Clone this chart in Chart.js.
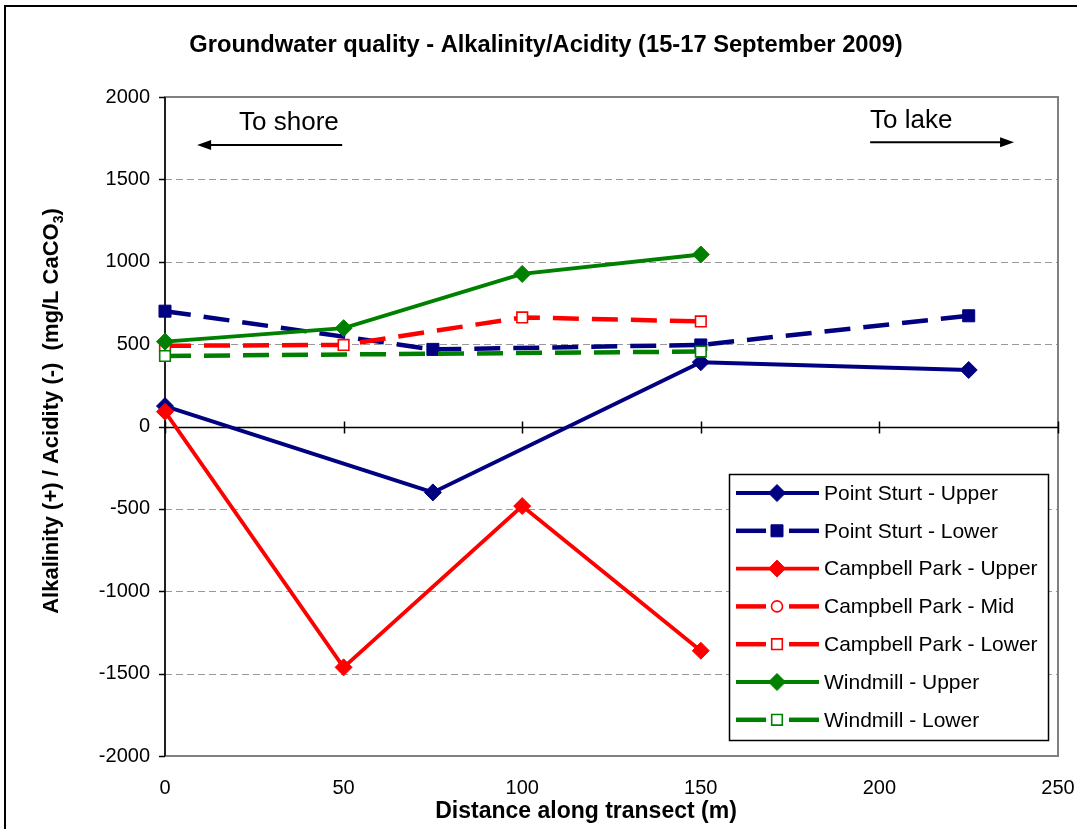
<!DOCTYPE html>
<html><head><meta charset="utf-8">
<script src="https://cdn.jsdelivr.net/npm/chart.js@4.4.1/dist/chart.umd.min.js"></script>
<style>
html,body{margin:0;padding:0;background:#fff;overflow:hidden}
#wrap{position:relative;width:1077px;height:829px;overflow:hidden}
#frame{position:absolute;left:4px;top:5px;width:1200px;height:1000px;border:2px solid #000;pointer-events:none}
canvas{position:absolute;left:0;top:0}
</style></head><body>
<div id="wrap"><canvas id="c" width="1077" height="829"></canvas><div id="frame"></div></div>
<script>
// ---- data ----
const seriesNames = ['Point Sturt - Upper','Point Sturt - Lower','Campbell Park - Upper','Campbell Park - Mid','Campbell Park - Lower','Windmill - Upper','Windmill - Lower'];
const psUpperX = [0, 75, 150, 225];
const psUpperY = [124, -400, 390, 343];
const psLowerX = [0, 75, 150, 225];
const psLowerY = [700, 468, 495, 672];
const cpUpperX = [0, 50, 100, 150];
const cpUpperY = [90, -1462, -483, -1361];
const cpMidX = [];
const cpMidY = [];
const cpLowerX = [0, 50, 100, 150];
const cpLowerY = [490, 495, 662, 638];
const wmUpperX = [0, 50, 100, 150];
const wmUpperY = [515, 597, 926, 1044];
const wmLowerX = [0, 150];
const wmLowerY = [428, 455];
const xTicks = [0, 50, 100, 150, 200, 250];
const yTicks = [-2000, -1500, -1000, -500, 0, 500, 1000, 1500, 2000];
const titleText = 'Groundwater quality - Alkalinity/Acidity (15-17 September 2009)';
const xTitleText = 'Distance along transect (m)';
const yTitleMain = 'Alkalinity (+) / Acidity (-)  (mg/L CaCO';
const yTitleSub = '3';
const yTitleEnd = ')';
const noteShore = {text:'To shore', tx:34.7, ty:1842, x1:49.6, x2:9.0, y:1708};
const noteLake = {text:'To lake', tx:208.9, ty:1854, x1:197.4, x2:237.7, y:1726};

const NAVY = '#000080', RED = '#ff0000', GREEN = '#008000';
const pts = (xs, ys) => xs.map((v, i) => ({x: v, y: ys[i]}));

function ds(i, xs, ys, color, dashed, style, filled, r){
  return {
    label: seriesNames[i], data: pts(xs, ys), borderColor: color,
    borderWidth: dashed ? 4.5 : 3.8, borderDash: dashed ? [26, 13] : [],
    pointStyle: style, pointRadius: r, pointHoverRadius: r,
    pointBackgroundColor: filled ? color : '#ffffff', pointBorderColor: color,
    pointBorderWidth: filled ? 1 : 1.6, tension: 0, fill: false, clip: false,
    order: 10 - i
  };
}
const datasets = [
  ds(0, psUpperX, psUpperY, NAVY, false, 'rectRot', true, 8.5),
  ds(1, psLowerX, psLowerY, NAVY, true, 'rect', true, 8.5),
  ds(2, cpUpperX, cpUpperY, RED, false, 'rectRot', true, 8.5),
  ds(3, cpMidX, cpMidY, RED, true, 'circle', false, 5.5),
  ds(4, cpLowerX, cpLowerY, RED, true, 'rect', false, 7.5),
  ds(5, wmUpperX, wmUpperY, GREEN, false, 'rectRot', true, 8.5),
  ds(6, wmLowerX, wmLowerY, GREEN, true, 'rect', false, 7.5)
];

const FONT = '"Liberation Sans", Arial, sans-serif';

function line(ctx, x1, y1, x2, y2){ ctx.beginPath(); ctx.moveTo(x1, y1); ctx.lineTo(x2, y2); ctx.stroke(); }

const deco = {
  id: 'deco',
  beforeDatasetsDraw(chart){
    const {ctx, chartArea: a, scales: {x, y}} = chart;
    ctx.save();
    ctx.strokeStyle = '#999999'; ctx.lineWidth = 1; ctx.setLineDash([7, 4]);
    yTicks.forEach(v => {
      if (v === 0 || v === yTicks[0] || v === yTicks[yTicks.length - 1]) return;
      const py = Math.round(y.getPixelForValue(v)) + 0.5;
      line(ctx, a.left, py, a.right, py);
    });
    ctx.setLineDash([]);
    ctx.strokeStyle = '#808080'; ctx.lineWidth = 2;
    ctx.strokeRect(a.left, a.top, a.right - a.left, a.bottom - a.top);
    ctx.strokeStyle = '#000'; ctx.lineWidth = 1.5;
    line(ctx, a.left, a.top, a.left, a.bottom);
    yTicks.forEach(v => { const py = Math.round(y.getPixelForValue(v)) + 0.5; line(ctx, a.left - 6, py, a.left, py); });
    const y0 = Math.round(y.getPixelForValue(0)) + 0.5;
    line(ctx, a.left, y0, a.right, y0);
    xTicks.forEach(v => { const px = Math.round(x.getPixelForValue(v)) + 0.5; line(ctx, px, y0 - 6, px, y0 + 6); });
    ctx.fillStyle = '#000'; ctx.font = '26px ' + FONT; ctx.textAlign = 'center'; ctx.textBaseline = 'middle';
    [noteShore, noteLake].forEach(n => {
      ctx.fillText(n.text, x.getPixelForValue(n.tx), y.getPixelForValue(n.ty));
      const x1 = x.getPixelForValue(n.x1), x2 = x.getPixelForValue(n.x2), py = y.getPixelForValue(n.y);
      const dir = Math.sign(x2 - x1);
      ctx.lineWidth = 2;
      line(ctx, x1, py, x2 - dir * 8, py);
      ctx.beginPath(); ctx.moveTo(x2, py); ctx.lineTo(x2 - dir * 14, py - 5); ctx.lineTo(x2 - dir * 14, py + 5); ctx.closePath(); ctx.fill();
    });
    ctx.restore();
  },
  afterDatasetsDraw(chart){
    const {ctx} = chart;
    ctx.save();
    const L = 729, T = 474, R = 1048, B = 740;
    ctx.fillStyle = '#fff'; ctx.fillRect(L, T, R - L, B - T);
    ctx.strokeStyle = '#000'; ctx.lineWidth = 1.5; ctx.strokeRect(L + 0.5, T + 0.5, R - L, B - T);
    chart.data.datasets.forEach((d, i) => {
      const cy = T + 19 + i * 37.8;
      ctx.setLineDash([]);
      ctx.strokeStyle = d.borderColor; ctx.lineWidth = d.borderWidth;
      if (d.borderDash.length) {
        line(ctx, 736, cy, 766, cy); line(ctx, 789, cy, 819, cy);
      } else {
        line(ctx, 736, cy, 819, cy);
      }
      ctx.fillStyle = d.pointBackgroundColor; ctx.strokeStyle = d.pointBorderColor; ctx.lineWidth = d.pointBorderWidth;
      Chart.helpers.drawPoint(ctx, {pointStyle: d.pointStyle, radius: d.pointRadius, borderWidth: d.pointBorderWidth, rotation: 0}, 777, cy);
      ctx.fillStyle = '#000'; ctx.font = '21px ' + FONT; ctx.textAlign = 'left'; ctx.textBaseline = 'middle';
      ctx.fillText(d.label, 824, cy + 1);
    });
    ctx.restore();
  },
  afterDraw(chart){
    const {ctx} = chart;
    ctx.save();
    ctx.fillStyle = '#000'; ctx.textBaseline = 'middle';
    ctx.font = 'bold 23.7px ' + FONT; ctx.textAlign = 'center';
    ctx.fillText(titleText, 546, 45);
    ctx.font = 'bold 23px ' + FONT;
    ctx.fillText(xTitleText, 586, 812);
    ctx.translate(52, 411); ctx.rotate(-Math.PI / 2);
    const f1 = 'bold 22px ' + FONT, f2 = 'bold 14px ' + FONT;
    ctx.font = f1; const w1 = ctx.measureText(yTitleMain).width, w3 = ctx.measureText(yTitleEnd).width;
    ctx.font = f2; const w2 = ctx.measureText(yTitleSub).width;
    let sx = -(w1 + w2 + w3) / 2;
    ctx.textAlign = 'left';
    ctx.font = f1; ctx.fillText(yTitleMain, sx, 0); sx += w1;
    ctx.font = f2; ctx.fillText(yTitleSub, sx, 7); sx += w2;
    ctx.font = f1; ctx.fillText(yTitleEnd, sx, 0);
    ctx.restore();
  }
};

new Chart(document.getElementById('c'), {
  type: 'line',
  data: { datasets },
  options: {
    responsive: false, devicePixelRatio: 1, animation: false,
    layout: { padding: { top: 97, right: 19, left: 0, bottom: 0 } },
    plugins: { legend: { display: false }, tooltip: { enabled: false }, title: { display: false } },
    scales: {
      x: {
        type: 'linear', min: 0, max: 250,
        afterFit: s => { s.height = 73; s.paddingLeft = 0; s.paddingRight = 0; },
        afterBuildTicks: s => { s.ticks = xTicks.map(v => ({value: v})); },
        grid: { display: false, drawTicks: false }, border: { display: false },
        ticks: { color: '#000', font: { family: FONT, size: 20 }, padding: 20, maxRotation: 0, callback: v => String(v) }
      },
      y: {
        type: 'linear', min: -2000, max: 2000,
        afterFit: s => { s.width = 165; },
        afterBuildTicks: s => { s.ticks = yTicks.map(v => ({value: v})); },
        grid: { display: false, drawTicks: false }, border: { display: false },
        ticks: { color: '#000', font: { family: FONT, size: 20 }, padding: 15, callback: v => String(v) }
      }
    }
  },
  plugins: [deco]
});
</script>
</body></html>
